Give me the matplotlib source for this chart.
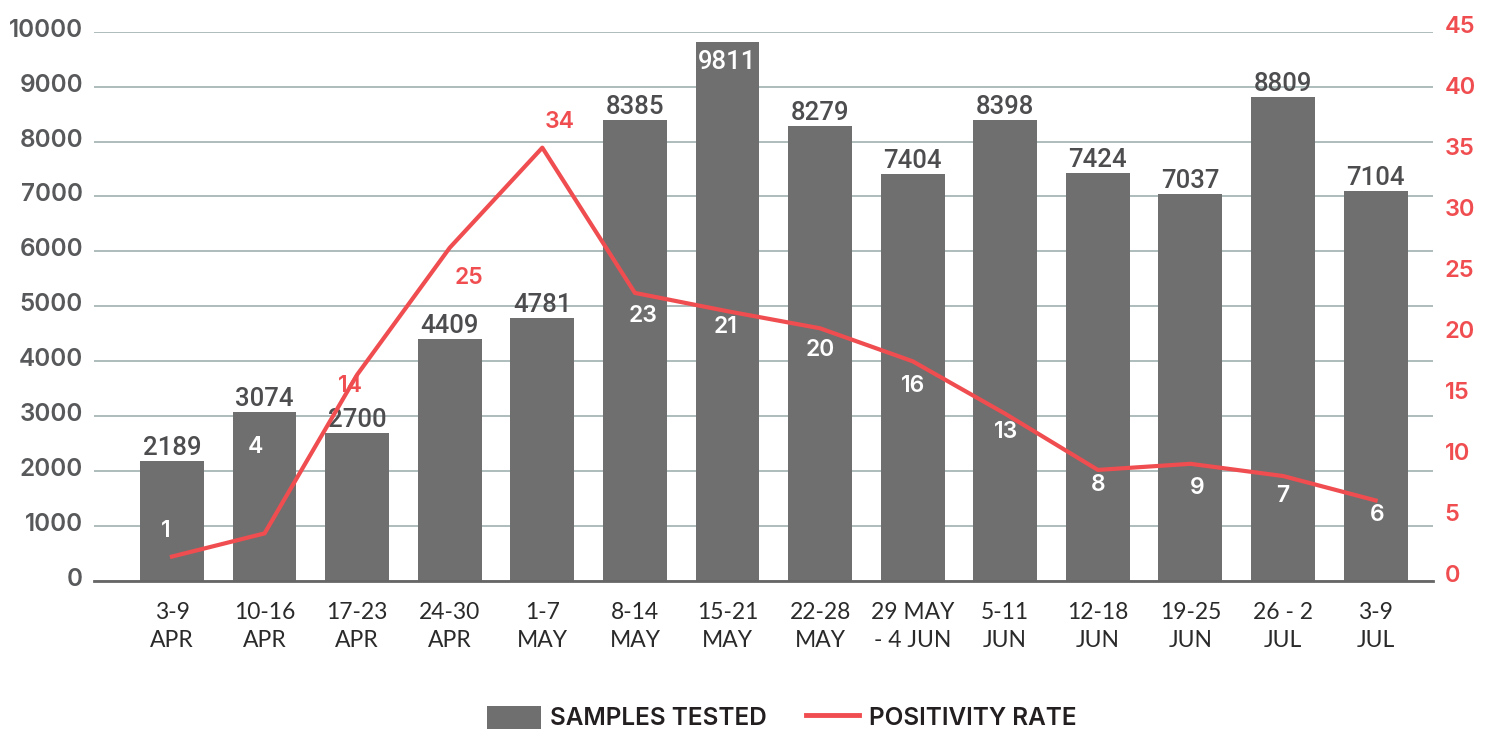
import matplotlib
matplotlib.use("Agg")
import matplotlib.pyplot as plt
import matplotlib.transforms as mtransforms
from matplotlib.patches import Patch
from matplotlib.lines import Line2D
import numpy as np

# ---------------- data ----------------
weeks = ["3-9\nAPR", "10-16\nAPR", "17-23\nAPR", "24-30\nAPR", "1-7\nMAY",
         "8-14\nMAY", "15-21\nMAY", "22-28\nMAY", "29 MAY\n- 4 JUN", "5-11\nJUN",
         "12-18\nJUN", "19-25\nJUN", "26 - 2\nJUL", "3-9\nJUL"]
samples_tested = [2189, 3074, 2700, 4409, 4781, 8385, 9811, 8279, 7404, 8398,
                  7424, 7037, 8809, 7104]
positivity_rate = [2.0, 3.9, 16.9, 27.3, 35.5, 23.6, 22.1, 20.7, 18.0, 13.7,
                   9.1, 9.6, 8.6, 6.6]
positivity_labels = ["1", "4", "14", "25", "34", "23", "21", "20", "16", "13",
                     "8", "9", "7", "6"]
left_ticks = [0, 1000, 2000, 3000, 4000, 5000, 6000, 7000, 8000, 9000, 10000]
right_ticks = [0, 5, 10, 15, 20, 25, 30, 35, 40, 45]

# ---------------- style ----------------
BAR = "#6f6f6f"
RED = "#f04d50"
GRID = "#a8b6b6"
DARK = "#4d4d4f"
SANS = "Inter"
# label offsets (pixels) relative to the line point and label colours
rate_offsets = [(-6, 26), (-9, 86), (-7, -11), (19, -30), (17, 26), (8, -23),
                (-2, -16), (0, -22), (0, -25), (1, -18), (0, -15), (7, -24),
                (0, -20), (2, -15)]
rate_colors = ["white", "white", RED, RED, RED, "white", "white", "white",
               "white", "white", "white", "white", "white", "white"]

fig = plt.figure(figsize=(14.91, 7.32), dpi=100)
ax = fig.add_axes([94 / 1491, 1 - 581 / 732, (1433 - 94) / 1491, (581 - 31.7) / 732])
ax2 = ax.twinx()

x = np.arange(len(weeks))
bars = ax.bar(x, samples_tested, width=0.69, color=BAR, zorder=2)

ax.set_ylim(0, 10000)
ax.set_xlim(-0.842, 13.62)
ax.set_yticks(left_ticks)
ax.set_xticks(x)
ax.set_xticklabels(weeks, fontfamily="Lato", fontweight="normal", fontsize=16.5,
                   color="#2a2a2a", linespacing=1.4)
ax.tick_params(axis="x", length=0, pad=15)
ax.tick_params(axis="y", length=0, pad=8, labelsize=17.5, labelcolor="#58595b")
for lab in ax.get_yticklabels():
    lab.set_fontfamily(SANS)
    lab.set_fontweight("semibold")
    lab.set_transform(lab.get_transform() +
                      mtransforms.ScaledTranslation(0, 4 / 100, fig.dpi_scale_trans))

ax.grid(axis="y", color=GRID, linewidth=1.3, zorder=0)
ax.set_axisbelow(True)
for s in ["top", "right", "left"]:
    ax.spines[s].set_visible(False)
ax.spines["bottom"].set_color("#666666")
ax.spines["bottom"].set_linewidth(2)
ax.spines["bottom"].set_zorder(3)

# bar value labels
for xi, v in zip(x, samples_tested):
    if v > 9500:
        ax.annotate(f"{v}", (xi, v), xytext=(0, -8), textcoords="offset pixels",
                    ha="center", va="top", fontsize=18.5, fontfamily="Roboto",
                    fontweight="medium", color="white", zorder=5)
    else:
        ax.annotate(f"{v}", (xi, v), xytext=(0, 6), textcoords="offset pixels",
                    ha="center", va="baseline", fontsize=18.5, fontfamily="Roboto",
                    fontweight="medium", color=DARK, zorder=5)

# positivity rate line
ax2.plot(x, positivity_rate, color=RED, linewidth=3, zorder=4)
ax2.set_ylim(0, 45)
ax2.set_yticks(right_ticks)
ax2.tick_params(axis="y", length=0, pad=8.5, labelsize=17, labelcolor=RED)
for lab in ax2.get_yticklabels():
    lab.set_fontfamily(SANS)
    lab.set_fontweight("semibold")
    lab.set_transform(lab.get_transform() +
                      mtransforms.ScaledTranslation(0, 7 / 100, fig.dpi_scale_trans))
for s in ["top", "right", "left", "bottom"]:
    ax2.spines[s].set_visible(False)

for xi, v, lab, off, c in zip(x, positivity_rate, positivity_labels, rate_offsets, rate_colors):
    ax2.annotate(lab, (xi, v), xytext=off, textcoords="offset pixels",
                 ha="center", va="center", fontsize=16.5, fontfamily=SANS,
                 fontweight="semibold", color=c, zorder=6)

# legend
handles = [Patch(facecolor=BAR, edgecolor="none"),
           Line2D([], [], color=RED, linewidth=3.5)]
leg = fig.legend(handles, ["SAMPLES TESTED", "POSITIVITY RATE"], loc="center",
                 bbox_to_anchor=(782 / 1491, 1 - 718 / 732), ncol=2, frameon=False,
                 handlelength=2.2, handleheight=1.1, handletextpad=0.4,
                 columnspacing=1.6,
                 prop={"family": SANS, "weight": "semibold", "size": 17.5})
for t in leg.get_texts():
    t.set_color("#231f20")

fig.savefig("out.png", dpi=100)
